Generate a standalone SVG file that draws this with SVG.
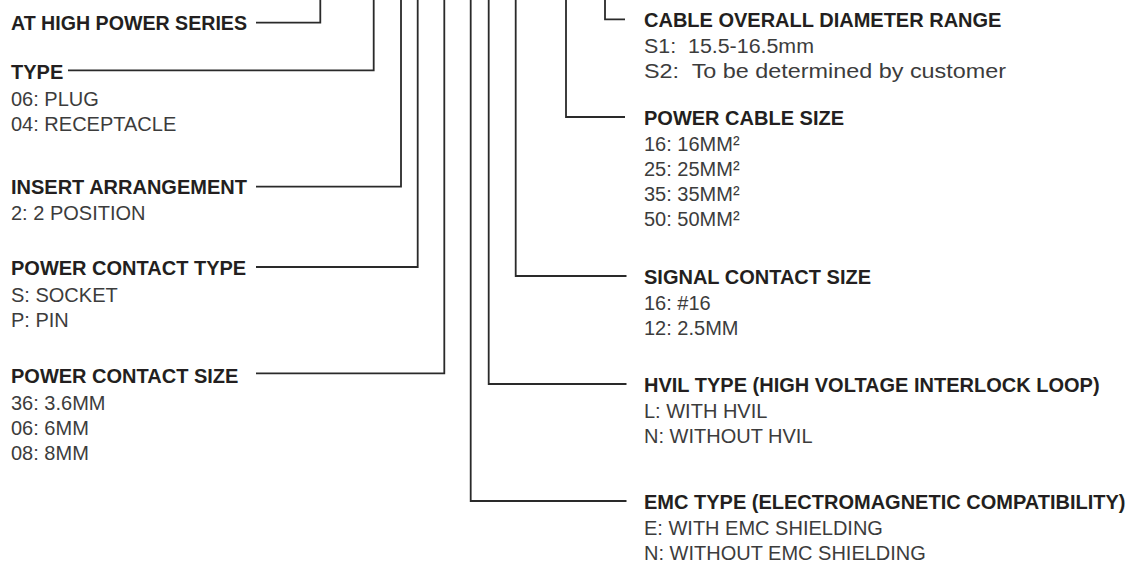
<svg xmlns="http://www.w3.org/2000/svg" width="1146" height="565" viewBox="0 0 1146 565">
<style>
.h{font-family:"Liberation Sans",Arial,sans-serif;font-weight:bold;font-size:20px;fill:#231f20}
.t{font-family:"Liberation Sans",Arial,sans-serif;font-size:20px;fill:#3c3c3c}
.p{white-space:pre}
.c{fill:none;stroke:#2a2a2a;stroke-width:1.8}
</style>
<rect width="1146" height="565" fill="#ffffff"/>
<g id="connectors">
<path class="c" d="M320.3 0V22.7H256"/>
<path class="c" d="M373.7 0V70.3H68"/>
<path class="c" d="M401 0V186.7H256"/>
<path class="c" d="M417.7 0V267H256"/>
<path class="c" d="M444.3 0V373.3H256"/>
<path class="c" d="M470.7 0V501H626.5"/>
<path class="c" d="M488.7 0V384H626.5"/>
<path class="c" d="M515.7 0V276H626.5"/>
<path class="c" d="M566 0V117H625"/>
<path class="c" d="M605 0V19.3H625"/>
</g>
<g id="series"><text class="h" x="11" y="30" textLength="236" lengthAdjust="spacingAndGlyphs">AT HIGH POWER SERIES</text></g>
<g id="type">
<text class="h" x="11" y="78.5">TYPE</text>
<text class="t" x="11" y="105.5">06: PLUG</text>
<text class="t" x="11" y="130.5">04: RECEPTACLE</text>
</g>
<g id="insert">
<text class="h" x="11" y="194">INSERT ARRANGEMENT</text>
<text class="t" x="11" y="220">2: 2 POSITION</text>
</g>
<g id="power-contact-type">
<text class="h" x="11" y="275">POWER CONTACT TYPE</text>
<text class="t" x="11" y="301.5">S: SOCKET</text>
<text class="t" x="11" y="326.5">P: PIN</text>
</g>
<g id="power-contact-size">
<text class="h" x="11" y="382.5">POWER CONTACT SIZE</text>
<text class="t" x="11" y="409.5">36: 3.6MM</text>
<text class="t" x="11" y="434.5">06: 6MM</text>
<text class="t" x="11" y="459.5">08: 8MM</text>
</g>
<g id="cable-diameter">
<text class="h" x="644" y="26.5">CABLE OVERALL DIAMETER RANGE</text>
<text class="t p" x="644" y="52.5" textLength="170" lengthAdjust="spacingAndGlyphs">S1:  15.5-16.5mm</text>
<text class="t p" x="644" y="77.5" textLength="362" lengthAdjust="spacingAndGlyphs">S2:  To be determined by customer</text>
</g>
<g id="power-cable-size">
<text class="h" x="644" y="124.5">POWER CABLE SIZE</text>
<text class="t" x="644" y="150.5">16: 16MM²</text>
<text class="t" x="644" y="175.5">25: 25MM²</text>
<text class="t" x="644" y="200.5">35: 35MM²</text>
<text class="t" x="644" y="225.5">50: 50MM²</text>
</g>
<g id="signal-contact-size">
<text class="h" x="644" y="283.5">SIGNAL CONTACT SIZE</text>
<text class="t" x="644" y="309.5">16: #16</text>
<text class="t" x="644" y="334.5">12: 2.5MM</text>
</g>
<g id="hvil-type">
<text class="h" x="644" y="391.5">HVIL TYPE (HIGH VOLTAGE INTERLOCK LOOP)</text>
<text class="t" x="644" y="417.5">L: WITH HVIL</text>
<text class="t" x="644" y="442.5">N: WITHOUT HVIL</text>
</g>
<g id="emc-type">
<text class="h" x="644" y="508.5">EMC TYPE (ELECTROMAGNETIC COMPATIBILITY)</text>
<text class="t" x="644" y="534.5">E: WITH EMC SHIELDING</text>
<text class="t" x="644" y="559.5">N: WITHOUT EMC SHIELDING</text>
</g>
</svg>
